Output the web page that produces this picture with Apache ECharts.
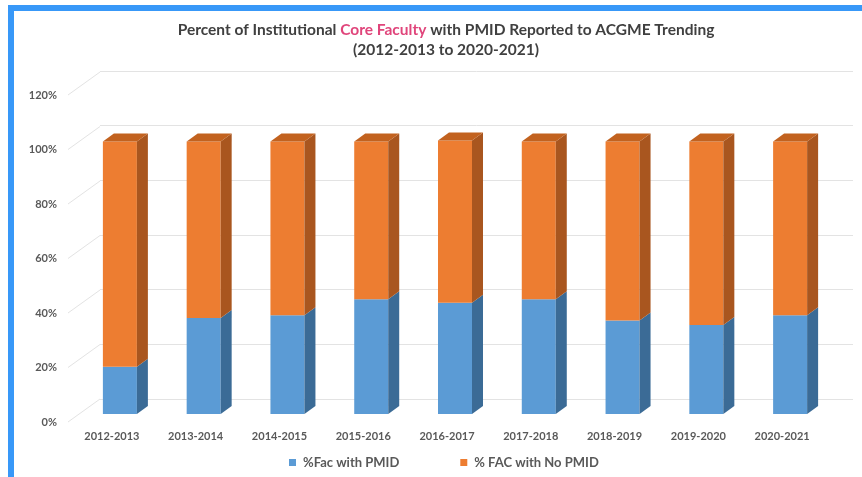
<!DOCTYPE html>
<html>
<head>
<meta charset="utf-8">
<script src="https://cdn.jsdelivr.net/npm/echarts@6/dist/echarts.min.js"></script>
<style>html,body{margin:0;padding:0;background:#fff}#c{width:862px;height:477px}</style>
</head>
<body>
<div id="c"></div>
<script>
const categories = ['2012-2013','2013-2014','2014-2015','2015-2016','2016-2017','2017-2018','2018-2019','2019-2020','2020-2021'];
const pctWithPMID = [17.3, 35.2, 36.2, 42.1, 40.8, 42.1, 34.3, 32.7, 36.2];
const pctNoPMID = [82.7, 64.8, 63.8, 57.9, 59.6, 57.9, 65.7, 67.3, 63.8];
const yTicks = [0, 20, 40, 60, 80, 100, 120];
const seriesNames = ['%Fac with PMID', '% FAC with No PMID'];

const FONT = 'Lato';
const chart = echarts.init(document.getElementById('c'), null, {renderer: 'canvas'});

function render3D(front, side, topc, drawTop) {
  return function (params, api) {
    const i = api.value(0), lo = api.value(1), hi = api.value(2);
    const pLo = api.coord([i, lo]);
    const pHi = api.coord([i, hi]);
    const w = 34, dx = 11, dy = 8, off = 8;
    const x0 = pLo[0] + off - w / 2, x1 = x0 + w;
    const ch = [
      {type: 'rect', shape: {x: x0, y: pHi[1], width: w, height: pLo[1] - pHi[1]}, style: {fill: front}},
      {type: 'polygon', shape: {points: [[x1, pLo[1]], [x1 + dx, pLo[1] - dy], [x1 + dx, pHi[1] - dy], [x1, pHi[1]]]}, style: {fill: side}}
    ];
    if (drawTop) ch.push({type: 'polygon', shape: {points: [[x0, pHi[1]], [x0 + dx, pHi[1] - dy], [x1 + dx, pHi[1] - dy], [x1, pHi[1]]]}, style: {fill: topc}});
    return {type: 'group', children: ch};
  };
}

const blueData = categories.map((c, i) => [i, 0, pctWithPMID[i]]);
const orangeData = categories.map((c, i) => [i, pctWithPMID[i], pctWithPMID[i] + pctNoPMID[i]]);

const option = {
  backgroundColor: '#fff',
  animation: false,
  title: {
    left: 441, top: 15, textAlign: 'center',
    text: '{a|Percent of Institutional }{b|Core Faculty}{a| with PMID Reported to ACGME Trending}\n{a|(2012-2013 to 2020-2021)}',
    textStyle: {
      rich: {
        a: {fontFamily: FONT, fontSize: 15.5, fontWeight: 'bold', color: '#404040', lineHeight: 20},
        b: {fontFamily: FONT, fontSize: 15.5, fontWeight: 'bold', color: '#e0457b', lineHeight: 20}
      }
    }
  },
  legend: {
    left: 284, top: 451, itemWidth: 7, itemHeight: 7, itemGap: 61, icon: 'rect',
    textStyle: {fontFamily: FONT, fontSize: 13, fontWeight: 'bold', color: '#595959', padding: [0, 0, 0, 2]},
    data: seriesNames
  },
  grid: [
    {left: 70, right: 38, top: 87, bottom: 63},
    {left: 70, right: 38, top: 95, bottom: 55},
    {left: 100, right: 9, top: 71, bottom: 78}
  ],
  xAxis: [
    {type: 'category', gridIndex: 0, data: categories, axisLine: {show: false}, axisTick: {show: false},
     axisLabel: {margin: 17, fontFamily: FONT, fontSize: 11, fontWeight: 'bold', color: '#595959', interval: 0}},
    {type: 'value', gridIndex: 1, min: 0, max: 1, show: false},
    {type: 'value', gridIndex: 2, min: 0, max: 1, show: false}
  ],
  yAxis: [
    {type: 'value', gridIndex: 0, min: 0, max: 120, interval: 20, show: false},
    {type: 'value', gridIndex: 1, min: 0, max: 120, interval: 20, axisLine: {show: false}, axisTick: {show: false}, splitLine: {show: false},
     axisLabel: {margin: 13, formatter: '{value}%', fontFamily: FONT, fontSize: 11, fontWeight: 'bold', color: '#595959'}},
    {type: 'value', gridIndex: 2, min: 0, max: 120, interval: 20, axisLine: {show: false}, axisTick: {show: false}, axisLabel: {show: false},
     splitLine: {show: true, lineStyle: {color: '#e3e3e3', width: 1}}}
  ],
  series: [
    {
      type: 'custom', name: 'diag', xAxisIndex: 1, yAxisIndex: 1, silent: true,
      data: yTicks.map(v => [0, v]),
      encode: {x: 0, y: 1},
      renderItem: function (params, api) {
        const p = api.coord([0, api.value(1)]);
        return {type: 'line', shape: {x1: p[0] - 2, y1: p[1], x2: p[0] + 30, y2: p[1] - 23}, style: {stroke: '#e3e3e3', lineWidth: 1}};
      }
    },
    {
      type: 'custom', name: seriesNames[0], xAxisIndex: 0, yAxisIndex: 0,
      itemStyle: {color: '#5b9bd5'},
      data: blueData, encode: {x: 0, y: [1, 2]},
      renderItem: render3D('#5b9bd5', '#3b6b96', '#4a83b6', false)
    },
    {
      type: 'custom', name: seriesNames[1], xAxisIndex: 0, yAxisIndex: 0,
      itemStyle: {color: '#ed7d31'},
      data: orangeData, encode: {x: 0, y: [1, 2]},
      renderItem: render3D('#ed7d31', '#a9561f', '#c2621f', true)
    }
  ],
  graphic: [
    {type: 'rect', shape: {x: 8, y: 5, width: 854, height: 6}, style: {fill: '#3898f8'}, z: 100},
    {type: 'rect', shape: {x: 8, y: 5, width: 6, height: 472}, style: {fill: '#3898f8'}, z: 100}
  ]
};
chart.setOption(option);
</script>
</body>
</html>
